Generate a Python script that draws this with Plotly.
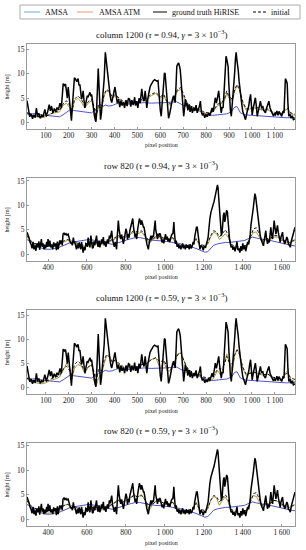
import plotly.graph_objects as go

# ---------------- data: column 1200 ----------------
col_gt_x = [18,24,30,36,42,48,54,59,64,70,76,82,88,96,102,108,115,120,125,131,137,143,149,155,162,168,172,176,181,186,190,194,198,202,205,209,212,217,221,225,230,235,241,245,249,253,256,260,263,267,271,276,281,285,289,293,297,300,304,307,312,316,319,323,327,329,332,335,339,343,347,351,355,360,363,366,369,373,377,381,385,388,392,396,402,406,412,418,423,428,433,439,444,450,455,461,466,471,476,482,488,492,497,502,507,512,516,519,524,529,534,538,541,546,551,555,560,565,570,575,580,585,590,595,600,604,609,614,618,621,625,628,632,636,641,648,653,658,662,665,669,672,676,680,684,687,690,694,698,702,706,709,713,716,720,725,730,735,740,746,751,756,761,767,771,775,779,784,789,794,799,805,811,816,821,826,831,836,840,845,850,855,858,862,866,870,874,878,882,885,887,890,893,896,899,902,906,910,914,918,921,925,928,931,934,937,940,944,947,950,955,960,966,972,977,982,986,990,994,997,1001,1006,1011,1015,1019,1023,1028,1033,1037,1042,1047,1052,1059,1064,1069,1074,1079,1084,1088,1094,1099,1103,1109,1114,1118,1124,1130,1135,1140,1143,1146,1150,1154,1157,1161,1166,1171,1176,1181,1188]
col_gt_y = [4.5,3.2,1.2,1.8,0.8,1.6,1.0,3.0,1.4,1.9,0.9,1.5,1.2,2.7,1.3,2.2,3.7,2.4,3.4,2.0,2.9,2.2,3.1,2.6,4.0,3.0,6.5,8.0,7.6,7.9,6.6,5.0,7.3,5.5,3.7,1.5,0.4,4.0,8.2,9.2,8.9,8.4,9.0,7.6,7.8,6.0,4.8,5.5,6.5,4.5,3.0,4.3,5.5,5.3,6.0,6.2,5.4,5.8,4.5,3.0,1.5,0.6,0.2,4.0,10.0,11.1,8.0,2.5,0.6,2.0,4.5,6.5,9.0,14.4,13.0,11.0,10.5,8.5,7.3,5.5,4.5,4.1,5.0,6.0,7.3,6.0,4.0,4.8,3.2,4.5,3.5,4.2,3.0,4.6,3.4,5.0,4.8,3.3,4.6,3.6,5.2,3.5,4.4,3.0,5.0,4.0,5.5,6.9,5.0,4.4,6.5,4.5,3.0,5.0,6.5,7.3,7.8,8.3,8.6,8.8,8.7,8.5,8.6,4.4,2.5,1.3,5.0,9.4,10.2,10.0,8.0,6.5,3.0,0.9,1.8,3.7,4.8,5.5,4.8,4.1,8.0,11.5,12.0,12.2,11.5,10.8,9.0,6.5,3.5,1.3,3.0,4.8,3.5,4.1,2.5,3.7,2.2,3.4,2.0,3.0,2.4,3.6,2.0,2.8,3.4,4.4,2.2,1.5,1.9,1.0,1.7,1.2,2.0,1.4,2.6,3.0,2.2,3.8,5.1,4.0,5.3,6.5,5.0,2.7,2.0,3.2,3.0,6.0,10.5,13.0,13.6,13.0,12.0,11.5,8.0,4.4,2.5,1.3,3.5,7.0,8.7,10.5,13.0,14.4,13.0,12.0,10.8,8.5,7.0,5.8,4.0,2.3,1.5,0.6,1.8,2.5,3.4,4.8,5.8,4.0,1.6,3.0,4.5,5.1,3.5,1.3,2.4,3.6,4.4,3.0,3.4,2.5,2.0,3.0,3.6,4.4,3.0,2.6,2.0,1.4,1.8,1.6,2.4,1.5,2.3,1.8,1.3,2.2,2.0,5.5,9.0,8.6,8.0,4.0,1.3,1.8,0.9,1.4,0.6,0.8]

col_amsa_x = [18,40,60,80,100,120,140,160,175,190,205,220,240,260,280,300,315,330,345,360,375,390,405,420,445,470,500,530,560,590,620,650,670,690,710,730,750,770,790,810,830,850,870,890,910,925,935,950,970,1000,1030,1060,1090,1120,1150,1188]
col_amsa_y = [2.0,1.8,1.9,1.6,1.5,1.4,1.3,1.2,1.6,2.2,2.6,2.5,2.4,2.3,2.2,2.0,2.6,3.0,3.2,3.6,3.4,3.5,3.8,4.0,3.9,3.8,4.0,4.1,4.0,4.0,4.1,4.2,4.3,3.8,3.3,3.0,2.8,2.4,2.0,1.6,1.5,1.6,1.7,1.8,2.2,3.2,3.3,2.0,1.6,1.5,1.4,1.3,1.2,1.1,1.0,1.1]

col_atm_x = [18,40,60,80,100,120,140,160,175,190,205,215,225,240,255,270,285,300,312,320,330,345,355,365,375,390,405,420,440,460,480,500,520,540,560,580,600,615,630,645,660,675,690,700,715,730,750,770,790,810,830,850,865,880,890,900,915,925,935,945,960,975,990,1010,1030,1050,1070,1090,1110,1130,1145,1155,1170,1188]
col_atm094_y = [1.8,1.3,1.2,1.0,1.2,1.8,2.0,2.2,3.5,4.0,3.0,2.0,4.5,5.0,4.2,3.0,4.0,4.5,2.5,0.5,3.5,3.0,5.5,6.5,6.3,5.0,5.5,4.8,4.0,4.2,4.0,4.0,4.5,4.8,5.5,6.0,5.0,5.5,4.0,3.5,4.8,6.5,6.8,5.5,4.0,3.2,2.8,2.5,2.0,1.8,2.2,3.5,3.8,4.5,6.0,5.0,4.5,6.5,7.5,6.8,4.0,2.5,2.8,3.0,2.8,2.5,2.6,2.0,1.8,1.7,2.5,2.8,1.8,1.5]
col_atm059_y = [1.8,1.2,1.0,0.8,1.0,1.5,1.8,2.2,3.5,5.0,4.0,1.8,4.0,4.8,4.5,3.0,4.2,4.8,2.5,0.3,2.0,3.0,5.0,6.5,6.8,5.5,5.5,4.8,4.0,4.3,4.0,4.0,4.8,5.0,5.8,6.2,4.0,5.5,3.5,3.5,5.0,7.0,7.2,6.0,4.2,3.2,2.8,2.5,1.6,1.3,1.8,3.5,2.5,5.0,7.0,5.5,3.5,6.8,8.0,7.0,4.0,2.5,3.0,3.2,2.8,2.6,2.8,2.0,1.6,1.5,3.0,3.5,1.6,1.2]
col_init_y = [2.0,1.5,1.3,1.2,1.3,1.8,2.2,2.5,3.8,4.5,3.5,2.5,4.8,5.5,4.8,3.5,4.3,4.8,3.0,1.0,3.8,3.5,5.8,6.8,6.5,5.3,5.8,5.0,4.3,4.5,4.2,4.3,4.8,5.0,5.8,6.2,5.3,5.8,4.3,3.8,5.0,6.8,7.2,6.0,4.3,3.5,3.0,2.7,2.2,2.0,2.4,3.8,4.0,4.8,6.5,5.3,4.8,6.8,7.8,7.0,4.3,2.8,3.0,3.2,3.0,2.7,2.8,2.2,2.0,1.9,2.8,3.0,2.0,1.7]

# ---------------- data: row 820 ----------------
row_gt_x = [292,298,303,308,313,318,323,328,333,338,343,348,353,357,362,366,370,374,379,384,388,393,397,400,405,409,414,419,424,429,434,439,443,448,452,456,460,464,469,473,477,482,487,492,497,503,508,512,516,520,525,530,534,537,542,546,551,556,560,563,568,572,576,580,585,590,594,598,602,606,610,615,620,624,628,632,636,640,645,649,653,657,662,666,670,675,679,684,688,692,697,701,705,710,715,719,723,727,731,735,740,745,749,752,756,761,765,769,773,778,782,787,791,796,800,804,808,812,816,820,825,830,835,839,843,847,851,855,860,864,869,873,877,881,886,890,893,897,903,908,912,915,920,924,928,932,937,941,945,948,950,953,957,962,966,970,974,977,982,986,990,994,999,1003,1008,1012,1016,1020,1025,1029,1033,1037,1041,1044,1046,1049,1054,1058,1063,1068,1072,1077,1082,1086,1091,1095,1100,1105,1110,1115,1120,1125,1130,1135,1140,1145,1149,1153,1158,1162,1166,1170,1175,1180,1185,1192,1197,1202,1209,1214,1218,1222,1226,1231,1236,1240,1244,1248,1252,1256,1260,1266,1270,1273,1277,1280,1283,1287,1290,1294,1297,1300,1304,1307,1310,1314,1317,1321,1324,1328,1332,1335,1340,1345,1350,1355,1360,1365,1370,1375,1380,1385,1390,1395,1400,1405,1410,1415,1420,1425,1430,1434,1438,1442,1446,1450,1454,1458,1462,1466,1470,1474,1478,1481,1485,1489,1493,1498,1502,1506,1510,1514,1518,1522,1527,1531,1536,1540,1544,1548,1553,1557,1561,1565,1570,1574,1578,1582,1587,1592,1596,1600,1604,1608,1612,1616,1621,1626,1630,1635,1640,1644,1648,1652,1656,1660,1664,1668]
row_gt_y = [4.5,4.0,3.3,2.4,2.0,1.2,2.5,1.0,1.8,0.7,2.2,1.4,2.6,0.9,1.8,3.1,1.5,2.2,1.0,1.9,1.2,2.5,1.5,3.1,1.6,2.8,1.4,2.0,1.0,2.4,1.6,2.2,0.8,2.6,1.0,2.0,2.8,2.2,2.8,1.8,4.1,4.3,4.0,4.2,3.9,4.1,3.5,3.1,2.2,2.4,1.8,3.4,2.3,2.6,1.4,1.0,2.0,1.2,2.4,2.0,1.0,2.5,1.2,0.3,1.5,0.8,2.2,2.1,1.5,3.4,2.0,1.4,3.8,2.5,1.2,1.4,2.6,1.8,3.0,3.8,2.2,1.5,2.8,1.4,2.0,3.0,2.2,3.5,1.8,2.6,1.5,2.4,3.0,2.2,3.8,3.2,4.0,4.8,3.0,2.1,1.5,2.5,1.8,1.0,4.0,6.9,5.0,3.6,3.1,4.0,2.6,2.1,3.0,4.2,5.2,4.6,3.0,4.1,3.4,4.8,5.9,6.5,7.3,5.5,4.4,3.5,4.2,3.1,5.0,6.5,7.3,6.8,6.0,6.9,6.0,5.5,5.5,4.0,3.1,2.0,1.5,1.0,2.4,3.0,3.8,3.0,3.8,3.5,5.0,6.5,6.9,5.0,3.8,3.1,4.2,3.8,4.3,4.0,3.0,2.4,3.0,2.2,3.2,4.1,3.0,3.6,2.6,3.1,2.5,3.4,3.8,4.1,4.2,5.5,6.6,4.5,2.1,2.8,1.5,2.0,1.2,1.8,1.0,1.6,2.2,1.2,1.7,1.0,2.0,1.3,1.8,1.0,2.0,1.2,1.6,2.5,2.0,3.5,4.8,5.5,5.5,4.0,1.7,1.0,1.8,1.4,0.8,1.6,1.4,2.0,2.8,3.5,5.5,7.3,8.5,9.3,9.6,10.2,10.7,11.5,12.5,13.8,14.2,13.5,11.5,10.0,9.0,6.0,3.8,4.5,6.5,7.9,8.5,6.6,7.2,8.5,9.0,8.6,7.6,5.0,3.0,2.1,1.4,1.7,0.9,1.5,0.6,1.4,2.5,0.8,1.2,0.3,1.6,0.7,2.2,1.0,1.8,0.6,1.4,2.5,2.0,2.8,4.0,6.0,7.0,7.9,9.5,11.0,12.4,11.8,10.4,9.0,7.5,5.9,5.0,4.0,3.1,2.4,2.0,1.7,2.8,3.8,4.8,3.2,2.1,3.0,2.4,4.0,5.5,4.0,3.1,5.0,6.9,5.5,4.1,5.0,5.9,4.5,3.0,2.4,3.5,4.0,4.5,3.0,2.5,2.1,2.8,3.5,3.1,2.0,1.8,1.4,2.5,3.0,3.8,4.5,5.0,5.5]

row_amsa_x = [292,310,330,350,370,390,410,430,450,470,490,510,530,550,570,590,610,630,650,670,690,710,730,750,770,790,810,830,850,870,890,910,930,950,970,990,1010,1030,1050,1070,1090,1110,1130,1150,1170,1190,1205,1220,1235,1250,1270,1290,1310,1330,1350,1370,1390,1410,1430,1450,1470,1490,1510,1530,1550,1570,1590,1610,1630,1650,1668]
row_amsa_y = [3.0,2.5,2.0,1.5,1.2,1.0,1.0,1.1,1.3,1.6,2.0,2.3,2.5,2.6,2.7,2.8,3.0,2.9,2.7,2.5,2.3,2.2,2.0,2.2,2.5,2.8,3.0,3.2,3.4,3.4,3.2,3.0,2.9,2.8,2.8,2.7,2.6,2.5,2.4,2.2,2.0,1.8,1.5,1.3,1.0,0.6,0.4,0.5,1.2,1.8,2.1,2.3,2.4,2.4,2.5,2.6,2.7,2.8,3.2,3.5,3.3,3.1,3.0,2.9,2.7,2.5,2.3,2.1,2.0,1.8,1.7]

row_atm_x = [292,310,330,360,390,420,450,480,500,520,550,580,610,640,670,700,730,760,780,800,820,840,860,880,900,920,940,960,980,1000,1020,1040,1060,1080,1100,1120,1140,1160,1180,1200,1220,1235,1250,1265,1280,1295,1310,1325,1340,1370,1400,1425,1440,1455,1470,1485,1500,1520,1540,1560,1580,1600,1620,1640,1668]
row_atm094_y = [3.5,2.6,2.0,1.8,1.6,1.5,1.6,2.5,2.8,2.5,2.0,1.5,2.0,2.2,2.0,2.3,2.8,3.5,3.2,3.5,4.0,4.5,4.2,4.5,3.5,2.2,3.0,3.5,3.3,3.0,3.0,3.2,2.0,1.5,1.4,1.5,1.8,3.0,1.8,1.5,2.0,3.5,4.5,4.2,3.0,3.5,4.2,3.5,1.8,1.2,1.2,1.8,3.5,4.5,4.5,3.5,2.5,3.0,3.0,3.5,3.5,2.8,2.5,2.2,2.8]
row_atm059_y = [3.8,2.4,1.6,1.5,1.2,1.3,1.2,2.8,3.0,2.4,1.6,1.0,1.8,2.0,1.8,2.2,3.0,4.0,3.0,3.8,4.2,5.0,4.5,5.0,3.8,1.8,3.2,3.8,3.5,3.0,3.0,3.5,1.8,1.2,1.2,1.3,1.6,3.5,1.5,1.2,2.0,3.8,4.6,4.3,2.8,3.8,4.5,3.5,1.5,1.0,1.0,1.8,3.8,4.8,4.6,3.5,2.2,3.0,3.2,3.8,3.6,2.8,2.4,2.0,3.0]
row_init_y = [3.8,2.8,2.2,2.0,1.8,1.8,1.8,2.7,3.0,2.7,2.2,1.8,2.2,2.4,2.2,2.5,3.0,3.8,3.4,3.8,4.2,4.8,4.5,4.8,3.8,2.5,3.2,3.8,3.5,3.2,3.2,3.4,2.2,1.8,1.7,1.8,2.0,3.2,2.0,1.8,2.3,3.8,4.8,4.6,3.5,4.2,5.0,4.0,2.0,1.5,1.5,2.0,3.8,5.2,5.4,4.0,2.8,3.2,3.2,3.8,3.8,3.0,2.7,2.4,3.0]

col_ticks = [100, 200, 300, 400, 500, 600, 700, 800, 900, 1000, 1100]
col_ticktext = ["100", "200", "300", "400", "500", "600", "700", "800", "900", "1\u2009000", "1\u2009100"]
row_ticks = [400, 600, 800, 1000, 1200, 1400, 1600]
row_ticktext = ["400", "600", "800", "1\u2009000", "1\u2009200", "1\u2009400", "1\u2009600"]
y_ticks = [0, 5, 10, 15]

titles = [
    "column 1200 (<i>τ</i> = 0.94, <i>γ</i> = 3 × 10<sup>−3</sup>)",
    "row 820 (<i>τ</i> = 0.94, <i>γ</i> = 3 × 10<sup>−3</sup>)",
    "column 1200 (<i>τ</i> = 0.59, <i>γ</i> = 3 × 10<sup>−3</sup>)",
    "row 820 (<i>τ</i> = 0.59, <i>γ</i> = 3 × 10<sup>−3</sup>)",
]
legend_names = ["AMSA", "AMSA ATM", "ground truth HiRISE", "initial"]

# ---------------- styling ----------------
W, H = 306, 550
FONT = "Liberation Serif, DejaVu Serif, serif"
C_AMSA = "#5252cc"
C_ATM = "#a99a3e"
C_GT = "#000000"
C_LEG_AMSA = "#6fa8d6"
C_LEG_ATM = "#e8967a"

# panel pixel boxes (top, bottom)
panels = [(44, 129), (178, 261), (310, 394), (443, 526)]
title_y = [34, 165, 297, 430]
label_y = [145, 277, 411, 543]
x_left, x_right = 27, 295
xranges = [[18, 1188], [292, 1668], [18, 1188], [292, 1668]]
yranges = [[-1.3, 16.1], [-1.4, 15.6], [-1.3, 16.1], [-1.4, 15.5]]

def py(p):
    return 1 - p / H

def px(p):
    return p / W

fig = go.Figure()

datasets = [
    (col_amsa_x, col_amsa_y, col_atm_x, col_atm094_y, col_gt_x, col_gt_y, col_init_y),
    (row_amsa_x, row_amsa_y, row_atm_x, row_atm094_y, row_gt_x, row_gt_y, row_init_y),
    (col_amsa_x, col_amsa_y, col_atm_x, col_atm059_y, col_gt_x, col_gt_y, col_init_y),
    (row_amsa_x, row_amsa_y, row_atm_x, row_atm059_y, row_gt_x, row_gt_y, row_init_y),
]

for i, (ax_, ay_, tx_, ty_, gx_, gy_, iy_) in enumerate(datasets):
    n = "" if i == 0 else str(i + 1)
    xa, ya = "x" + n, "y" + n
    fig.add_trace(go.Scatter(x=ax_, y=ay_, mode="lines", line=dict(color=C_AMSA, width=1),
                             name=legend_names[0], showlegend=False, xaxis=xa, yaxis=ya))
    fig.add_trace(go.Scatter(x=tx_, y=ty_, mode="lines", line=dict(color=C_ATM, width=1),
                             name=legend_names[1], showlegend=False, xaxis=xa, yaxis=ya))
    fig.add_trace(go.Scatter(x=gx_, y=gy_, mode="lines", line=dict(color=C_GT, width=1.5),
                             name=legend_names[2], showlegend=False, xaxis=xa, yaxis=ya))
    fig.add_trace(go.Scatter(x=tx_, y=iy_, mode="lines", line=dict(color=C_GT, width=0.9, dash="3px,2px"),
                             name=legend_names[3], showlegend=False, xaxis=xa, yaxis=ya))

    top, bot = panels[i]
    is_col = (i % 2 == 0)
    axis_common = dict(showline=True, linecolor="#9a9a9a", linewidth=0.8, mirror=True,
                       showgrid=False, zeroline=False, ticks="inside", ticklen=2,
                       tickcolor="#9a9a9a", tickwidth=0.6,
                       tickfont=dict(family=FONT, size=7.5, color="#222"), automargin=False)
    fig.layout["xaxis" + n] = dict(axis_common, domain=[px(x_left), px(x_right)], range=xranges[i],
                                   anchor=ya, tickvals=col_ticks if is_col else row_ticks,
                                   ticktext=col_ticktext if is_col else row_ticktext,
                                   ticklabelstandoff=-1)
    fig.layout["yaxis" + n] = dict(axis_common, domain=[py(bot), py(top)], range=yranges[i],
                                   anchor=xa, tickvals=y_ticks)

    cx = px((x_left + x_right) / 2)
    fig.add_annotation(text=titles[i], x=cx, y=py(title_y[i]), xref="paper", yref="paper",
                       showarrow=False, font=dict(family=FONT, size=9, color="#111"),
                       xanchor="center", yanchor="middle")
    fig.add_annotation(text="pixel position", x=cx, y=py(label_y[i]), xref="paper", yref="paper",
                       showarrow=False, font=dict(family=FONT, size=6, color="#222"),
                       xanchor="center", yanchor="middle")
    fig.add_annotation(text="height [m]", x=px(7), y=py((top + bot) / 2), xref="paper", yref="paper",
                       showarrow=False, textangle=-90, font=dict(family=FONT, size=6, color="#222"),
                       xanchor="center", yanchor="middle")

# ---------------- manual legend ----------------
fig.add_shape(type="rect", xref="paper", yref="paper", x0=px(20), x1=px(300), y0=py(19), y1=py(5),
              line=dict(color="#9a9a9a", width=0.8), fillcolor="white")
leg_items = [
    (24, 40, 43, C_LEG_AMSA, "solid", legend_names[0]),
    (77, 93, 97, C_LEG_ATM, "solid", legend_names[1]),
    (153, 167, 170, "#000000", "solid", legend_names[2]),
    (253, 266, 269, "#000000", "3px,2px", legend_names[3]),
]
for x0, x1, xt, col, dash, name in leg_items:
    fig.add_shape(type="line", xref="paper", yref="paper", x0=px(x0), x1=px(x1), y0=py(12), y1=py(12),
                  line=dict(color=col, width=1, dash=dash))
    fig.add_annotation(text=name, x=px(xt), y=py(12), xref="paper", yref="paper", showarrow=False,
                       xanchor="left", yanchor="middle", font=dict(family=FONT, size=8, color="#111"))

fig.update_layout(width=W, height=H, margin=dict(l=0, r=0, t=0, b=0),
                  paper_bgcolor="white", plot_bgcolor="white", showlegend=False,
                  font=dict(family=FONT))

fig.write_html("out.html", config={"displayModeBar": False},
               post_script="document.body.style.margin='0';document.body.style.overflow='hidden';")
